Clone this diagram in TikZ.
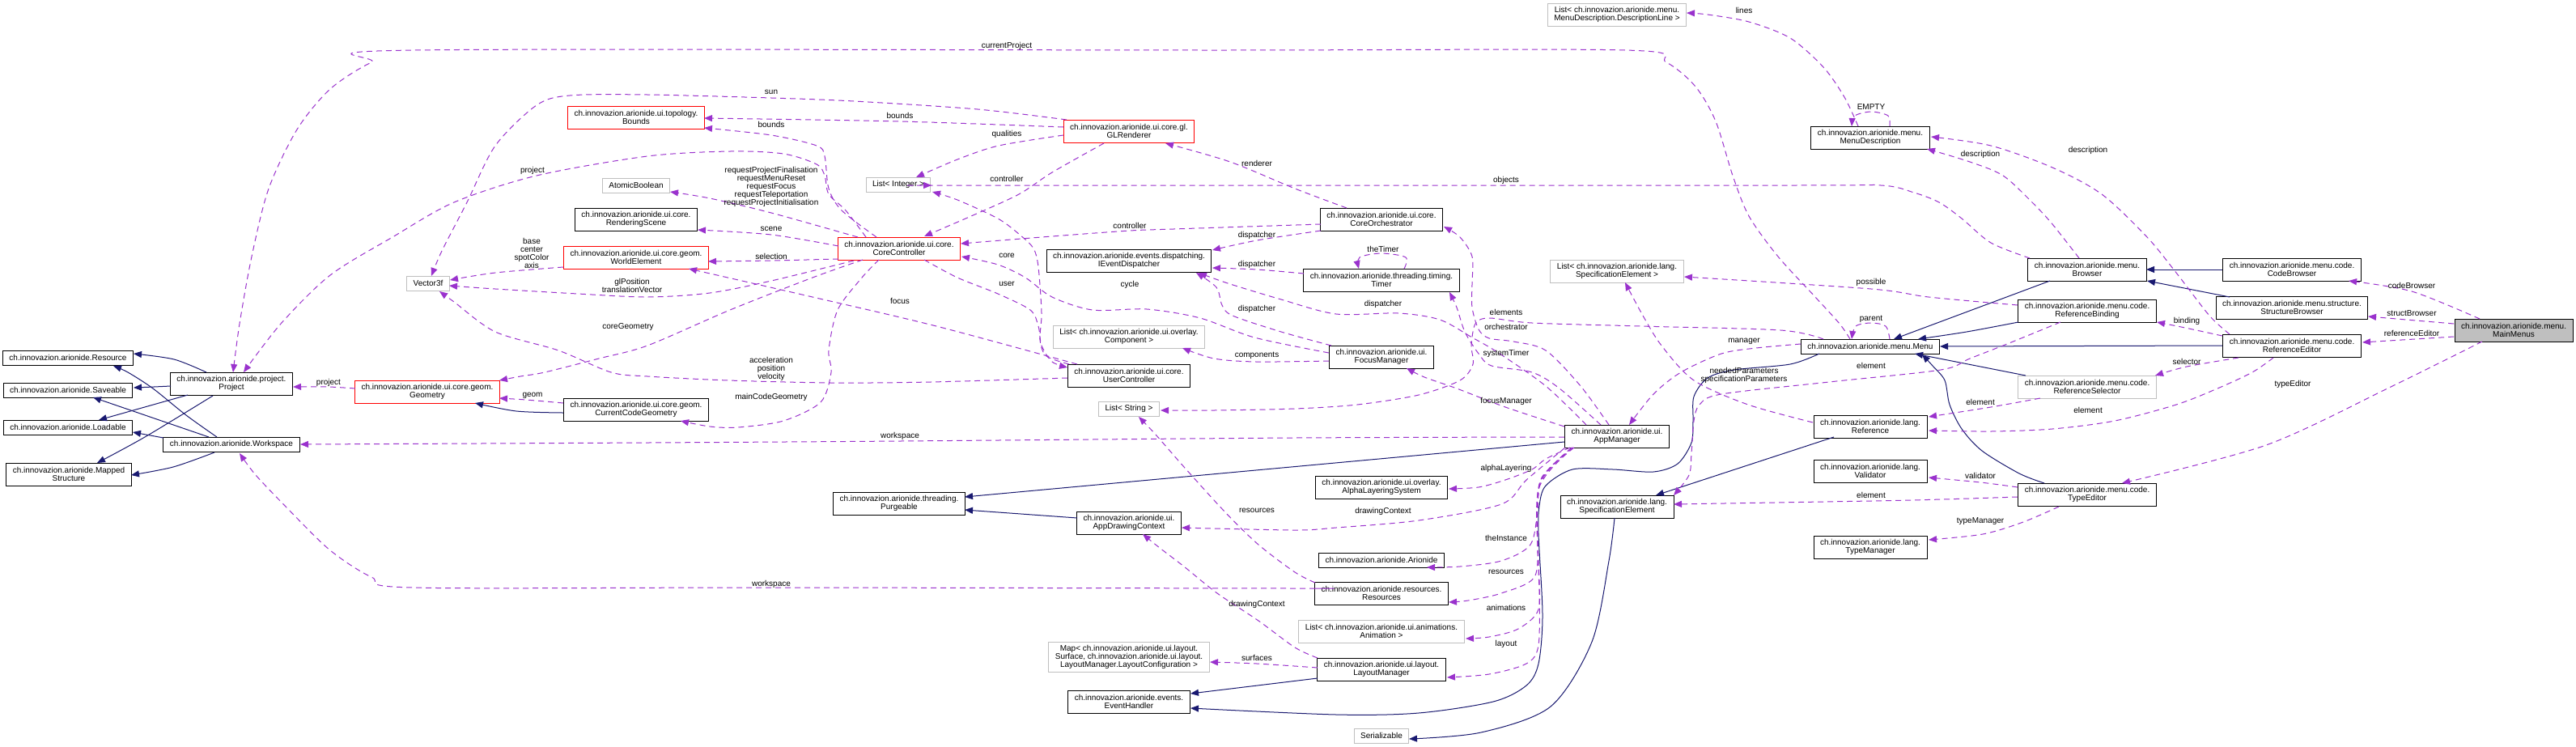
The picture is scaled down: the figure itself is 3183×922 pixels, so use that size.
\documentclass[tikz,border=0pt]{standalone}
\usepackage{fontspec}
\setmainfont{Liberation Sans}
\usetikzlibrary{arrows.meta,calc}
\definecolor{navyedge}{HTML}{191970}
\definecolor{depedge}{HTML}{9A32CD}
\definecolor{grayborder}{HTML}{BFBFBF}
\definecolor{mainfill}{HTML}{BFBFBF}
\begin{document}
\begin{tikzpicture}[x=0.5pt,y=-0.5pt,
  box/.style={draw=black, line width=0.5pt, fill=white, font=\fontsize{5}{5}\selectfont, align=center, inner xsep=4pt, inner ysep=2pt, minimum height=14pt},
  one/.style={minimum height=9pt},
  redbox/.style={box, draw=red},
  graybox/.style={box, draw=grayborder},
  inh/.style={draw=navyedge, line width=0.5pt, -{Triangle[length=5pt,width=4pt]}},
  dep/.style={draw=depedge, line width=0.5pt, dash pattern=on 3.5pt off 2.5pt, -{Triangle[length=5pt,width=4pt]}},
  lbl/.style={font=\fontsize{5}{5}\selectfont, align=center, inner sep=0.5pt}]
\fill[white] (0,0) rectangle (3183,922);
\useasboundingbox (0,0) rectangle (3183,922);

% ---------------- nodes
\node[box,one] (res) at (84,442) {ch.innovazion.arionide.Resource};
\node[box,one] (sav) at (84,482) {ch.innovazion.arionide.Saveable};
\node[box,one] (loa) at (84,528) {ch.innovazion.arionide.Loadable};
\node[box] (map) at (85,586) {ch.innovazion.arionide.Mapped\\Structure};
\node[box] (proj) at (286,474) {ch.innovazion.arionide.project.\\Project};
\node[box,one] (ws) at (286,549) {ch.innovazion.arionide.Workspace};
\node[graybox,one] (vec) at (529,350) {Vector3f};
\node[redbox] (geo) at (528,484) {ch.innovazion.arionide.ui.core.geom.\\Geometry};
\node[redbox] (bnd) at (786,145) {ch.innovazion.arionide.ui.topology.\\Bounds};
\node[graybox,one] (atom) at (786,229) {AtomicBoolean};
\node[box] (rscene) at (786,271) {ch.innovazion.arionide.ui.core.\\RenderingScene};
\node[redbox] (wel) at (786,318) {ch.innovazion.arionide.ui.core.geom.\\WorldElement};
\node[box] (ccg) at (786,506) {ch.innovazion.arionide.ui.core.geom.\\CurrentCodeGeometry};
\node[box] (purg) at (1111,622) {ch.innovazion.arionide.threading.\\Purgeable};
\node[redbox] (cc) at (1111,307) {ch.innovazion.arionide.ui.core.\\CoreController};
\node[graybox,one] (lint) at (1110,228) {List< Integer >};
\node[redbox] (glr) at (1395,162) {ch.innovazion.arionide.ui.core.gl.\\GLRenderer};
\node[box] (ied) at (1395,322) {ch.innovazion.arionide.events.dispatching.\\IEventDispatcher};
\node[graybox] (lcomp) at (1395,416) {List< ch.innovazion.arionide.ui.overlay.\\Component >};
\node[box] (uc) at (1395,464) {ch.innovazion.arionide.ui.core.\\UserController};
\node[graybox,one] (lstr) at (1395,505) {List< String >};
\node[box] (adc) at (1395,646) {ch.innovazion.arionide.ui.\\AppDrawingContext};
\node[graybox] (mapl) at (1395,812) {Map< ch.innovazion.arionide.ui.layout.\\Surface, ch.innovazion.arionide.ui.layout.\\LayoutManager.LayoutConfiguration >};
\node[box] (eh) at (1395,867) {ch.innovazion.arionide.events.\\EventHandler};
\node[box] (corch) at (1707,271) {ch.innovazion.arionide.ui.core.\\CoreOrchestrator};
\node[box] (timer) at (1707,346) {ch.innovazion.arionide.threading.timing.\\Timer};
\node[box] (fm) at (1707,441) {ch.innovazion.arionide.ui.\\FocusManager};
\node[box] (als) at (1707,602) {ch.innovazion.arionide.ui.overlay.\\AlphaLayeringSystem};
\node[box,one] (ari) at (1707,692) {ch.innovazion.arionide.Arionide};
\node[box] (rsrc) at (1707,733) {ch.innovazion.arionide.resources.\\Resources};
\node[graybox] (lanim) at (1707,780) {List< ch.innovazion.arionide.ui.animations.\\Animation >};
\node[box] (lm) at (1707,827) {ch.innovazion.arionide.ui.layout.\\LayoutManager};
\node[graybox,one] (ser) at (1707,909) {Serializable};
\node[graybox] (ldl) at (1998,18) {List< ch.innovazion.arionide.menu.\\MenuDescription.DescriptionLine >};
\node[graybox] (lspec) at (1998,335) {List< ch.innovazion.arionide.lang.\\SpecificationElement >};
\node[box] (am) at (1998,539) {ch.innovazion.arionide.ui.\\AppManager};
\node[box] (spec) at (1998,626) {ch.innovazion.arionide.lang.\\SpecificationElement};
\node[box] (md) at (2311,170) {ch.innovazion.arionide.menu.\\MenuDescription};
\node[box,one] (menu) at (2311,428) {ch.innovazion.arionide.menu.Menu};
\node[box] (ref) at (2311,527) {ch.innovazion.arionide.lang.\\Reference};
\node[box] (val) at (2311,582) {ch.innovazion.arionide.lang.\\Validator};
\node[box] (tm) at (2311,676) {ch.innovazion.arionide.lang.\\TypeManager};
\node[box] (brw) at (2579,333) {ch.innovazion.arionide.menu.\\Browser};
\node[box] (rb) at (2579,384) {ch.innovazion.arionide.menu.code.\\ReferenceBinding};
\node[graybox] (rs) at (2579,478) {ch.innovazion.arionide.menu.code.\\ReferenceSelector};
\node[box] (te) at (2579,611) {ch.innovazion.arionide.menu.code.\\TypeEditor};
\node[box] (cb) at (2832,333) {ch.innovazion.arionide.menu.code.\\CodeBrowser};
\node[box] (sb) at (2832,380) {ch.innovazion.arionide.menu.structure.\\StructureBrowser};
\node[box] (re) at (2832,427) {ch.innovazion.arionide.menu.code.\\ReferenceEditor};
\node[box,fill=mainfill] (mm) at (3106,408) {ch.innovazion.arionide.menu.\\MainMenus};

% ---------------- inheritance edges
\draw[inh] plot[smooth] coordinates {($(proj)+(-31,-14)$) (215,444) ($(res)+(81,-5)$)};
\draw[inh] plot[smooth] coordinates {($(ws)+(-18,-9)$) (230,513) (189,480) (158,460) ($(res)+(56,10)$)};
\draw[inh] plot[smooth] coordinates {($(proj)+(-75,3)$) (190,478) ($(sav)+(81,-3)$)};
\draw[inh] ($(ws)+(-28,-9)$) -- ($(sav)+(31,9)$);
\draw[inh] ($(proj)+(-54,14)$) -- ($(loa)+(38,-9)$);
\draw[inh] ($(ws)+(-84,-8)$) -- ($(loa)+(80,6)$);
\draw[inh] plot[smooth] coordinates {($(proj)+(-23,15)$) (179,540) ($(map)+(35,-14)$)};
\draw[inh] plot[smooth] coordinates {($(ws)+(-21,10)$) (214,577) ($(map)+(77,1)$)};
\draw[inh] plot[smooth] coordinates {($(ccg)+(-90,4)$) (638,508) ($(geo)+(59,14)$)};
\draw[inh] ($(am)+(-65,7)$) -- ($(purg)+(81,-8)$);
\draw[inh] ($(adc)+(-64,-6)$) -- ($(purg)+(81,8)$);
\draw[inh] ($(lm)+(-79,11)$) -- ($(eh)+(76,-10)$);
\draw[inh] plot[smooth] coordinates {($(menu)+(-63,9)$) (2212,450) (2143,457) (2110,467) (2093,490) (2092,520) (2090,547) (2073,573) (2043,583) (1993,580) (1943,580) (1910,600) (1902,625) (1901,660) (1906,760) (1901,820) (1886,847) (1845,867) (1753,881) (1651,883) ($(eh)+(76,8)$)};
\draw[inh] plot[smooth] coordinates {($(spec)+(-3,14)$) (1988,693) (1967,793) (1916,873) (1830,905) ($(ser)+(34,4)$)};
\draw[inh] ($(ref)+(-45,13)$) -- ($(spec)+(48,-14)$);
\draw[inh] ($(brw)+(-46,14)$) -- ($(menu)+(29,-9)$);
\draw[inh] plot[smooth] coordinates {($(rb)+(-85,14)$) (2430,410) ($(menu)+(59,-9)$)};
\draw[inh] ($(re)+(-86,0)$) -- ($(menu)+(86,0)$);
\draw[inh] ($(rs)+(-76,-14)$) -- ($(menu)+(55,9)$);
\draw[inh] plot[smooth] coordinates {($(te)+(-53,-14)$) (2495,585) (2449,557) (2424,530) (2409,500) (2403,470) (2388,452) ($(menu)+(64,10)$)};
\draw[inh] ($(cb)+(-86,0)$) -- ($(brw)+(73,0)$);
\draw[inh] ($(sb)+(-77,-13)$) -- ($(brw)+(74,14)$);

% ---------------- usage edges
\draw[dep] plot[smooth] coordinates {($(glr)+(-81,-5)$) (1112,150) ($(bnd)+(84,1)$)};
\draw[dep] plot[smooth] coordinates {($(cc)+(-28,-14)$) (1040,260) (1024,233) (1019,193) (1009,180) (953,167) ($(bnd)+(84,13)$)};
\draw[dep] plot[smooth] coordinates {($(cc)+(-41,-14)$) (1045,260) (1024,240) (1019,217) (1009,203) (968,190) (902,187) (800,193) (663,217) (561,250) (485,293) (408,340) (347,400) ($(proj)+(15,-14)$)};
\draw[dep] plot[smooth] coordinates {($(cc)+(-51,-14)$) (953,263) (877,245) ($(atom)+(42,8)$)};
\draw[dep] plot[smooth] coordinates {($(cc)+(-75,-3)$) (953,290) ($(rscene)+(76,13)$)};
\draw[dep] plot[smooth] coordinates {($(cc)+(-75,13)$) (953,322) ($(wel)+(89,5)$)};
\draw[dep] plot[smooth] coordinates {($(cc)+(-56,15)$) (953,347) (877,362) (800,367) (714,363) (612,357) ($(vec)+(26,3)$)};
\draw[dep] plot[smooth] coordinates {($(cc)+(-45,14)$) (1004,343) (902,383) (800,427) (740,443) (673,460) (643,465) ($(geo)+(89,-14)$)};
\draw[dep] plot[smooth] coordinates {($(cc)+(-25,14)$) (1065,343) (1035,383) (1024,433) (1027,460) (1014,497) (968,520) (912,528) (877,527) ($(ccg)+(55,14)$)};
\draw[dep] plot[smooth] coordinates {($(cc)+(31,14)$) (1183,343) (1233,363) (1273,383) (1283,403) (1287,427) (1300,447) ($(uc)+(-76,-10)$)};
\draw[dep] plot[smooth] coordinates {($(uc)+(-74,-14)$) (1293,440) (1285,420) (1287,387) (1283,330) (1277,307) (1260,290) (1233,270) (1183,247) ($(lint)+(42,9)$)};
\draw[dep] plot[smooth] coordinates {($(fm)+(-65,-5)$) (1550,417) (1483,393) (1417,382) (1350,383) (1300,367) (1267,343) (1233,327) ($(cc)+(77,10)$)};
\draw[dep] plot[smooth] coordinates {($(uc)+(-64,-14)$) (1157,403) (1004,367) ($(wel)+(65,14)$)};
\draw[dep] plot[smooth] coordinates {($(uc)+(-76,3)$) (1150,472) (1027,473) (900,470) (800,465) (755,460) (690,433) (612,410) (561,373) ($(vec)+(14,10)$)};
\draw[dep] plot[smooth] coordinates {($(wel)+(-90,12)$) (612,337) ($(vec)+(27,-4)$)};
\draw[dep] plot[smooth] coordinates {($(glr)+(-77,-14)$) (1208,135) (1055,125) (953,121) (800,117) (704,118) (663,130) (612,180) (577,250) (546,310) ($(vec)+(4,-9)$)};
\draw[dep] plot[smooth] coordinates {($(glr)+(-81,5)$) (1234,180) (1183,197) ($(lint)+(22,-9)$)};
\draw[dep] plot[smooth] coordinates {($(glr)+(-31,15)$) (1300,213) (1259,240) (1200,267) ($(cc)+(31,-15)$)};
\draw[dep] plot[smooth] coordinates {($(corch)+(-43,-14)$) (1600,233) (1520,200) ($(glr)+(45,15)$)};
\draw[dep] plot[smooth] coordinates {($(corch)+(-75,6)$) (1450,283) (1396,285) (1300,292) ($(cc)+(76,-6)$)};
\draw[dep] plot[smooth] coordinates {($(corch)+(-75,14)$) (1553,297) ($(ied)+(103,-13)$)};
\draw[dep] plot[smooth] coordinates {($(timer)+(-96,-8)$) (1553,333) ($(ied)+(103,9)$)};
\draw[dep] plot[smooth] coordinates {($(timer)+(28,-14)$) (1737,318) (1707,313) (1680,318) ($(timer)+(-28,-14)$)};
\draw[dep] plot[smooth] coordinates {($(fm)+(-62,-14)$) (1583,410) (1523,390) (1510,377) (1503,355) ($(ied)+(83,15)$)};
\draw[dep] plot[smooth] coordinates {($(am)+(-38,-14)$) (1910,477) (1850,435) (1819,417) (1779,395) (1728,387) (1651,388) (1583,370) (1517,350) ($(ied)+(86,15)$)};
\draw[dep] plot[smooth] coordinates {($(fm)+(-65,5)$) (1552,447) (1500,443) ($(lcomp)+(66,14)$)};
\draw[dep] plot[smooth] coordinates {($(brw)+(-71,-14)$) (2460,300) (2424,270) (2396,250) (2365,238) (2324,229) (2200,229) (1200,229) ($(lint)+(41,1)$)};
\draw[dep] plot[smooth] coordinates {($(menu)+(-25,-9)$) (2273,400) (2243,367) (2197,317) (2161,267) (2141,217) (2120,150) (2095,107) (2059,77) (2008,62) (1500,62) (510,62) (459,77) (408,110) (367,160) (332,233) (311,317) (296,400) ($(proj)+(2,-14)$)};
\draw[dep] plot[smooth] coordinates {($(menu)+(24,-9)$) (2330,403) (2312,399) (2293,403) ($(menu)+(-23,-9)$)};
\draw[dep] plot[smooth] coordinates {($(menu)+(-58,-9)$) (2200,408) (2027,403) (1893,399) (1840,393) (1823,400) (1818,427) (1820,450) (1804,470) (1753,488) (1677,500) (1600,505) (1500,507) ($(lstr)+(39,2)$)};
\draw[dep] plot[smooth] coordinates {($(menu)+(-86,-3)$) (2170,430) (2127,437) (2077,460) (2043,487) ($(am)+(15,-14)$)};
\draw[dep] plot[smooth] coordinates {($(md)+(-15,-14)$) (2279,120) (2253,83) (2212,47) (2161,27) (2110,18) ($(ldl)+(86,-2)$)};
\draw[dep] plot[smooth] coordinates {($(md)+(24,-14)$) (2333,143) (2312,138) (2292,143) ($(md)+(-23,-14)$)};
\draw[dep] plot[smooth] coordinates {($(brw)+(-10,-14)$) (2536,277) (2511,250) (2475,217) (2434,200) ($(md)+(70,14)$)};
\draw[dep] plot[smooth] coordinates {($(re)+(-77,-14)$) (2730,390) (2689,337) (2653,293) (2597,240) (2536,207) (2460,180) ($(md)+(75,-1)$)};
\draw[dep] plot[smooth] coordinates {($(re)+(-86,-12)$) (2700,405) ($(rb)+(86,14)$)};
\draw[dep] plot[smooth] coordinates {($(re)+(-66,15)$) (2702,453) ($(rs)+(84,-14)$)};
\draw[dep] plot[smooth] coordinates {($(re)+(-23,15)$) (2783,460) (2740,480) (2689,500) (2613,520) (2536,530) (2460,533) ($(ref)+(72,5)$)};
\draw[dep] plot[smooth] coordinates {($(rs)+(-58,14)$) (2460,503) ($(ref)+(72,-12)$)};
\draw[dep] plot[smooth] coordinates {($(rb)+(-86,-7)$) (2383,367) (2312,357) ($(lspec)+(83,7)$)};
\draw[dep] plot[smooth] coordinates {($(rb)+(-33,14)$) (2485,423) (2434,443) (2398,457) (2260,472) (2127,487) (2100,500) (2093,520) (2090,560) (2087,587) ($(spec)+(70,-14)$)};
\draw[dep] plot[smooth] coordinates {($(ref)+(-71,-5)$) (2160,500) (2093,470) (2053,427) (2030,390) ($(lspec)+(10,14)$)};
\draw[dep] plot[smooth] coordinates {($(te)+(-86,-9)$) (2447,596) ($(val)+(72,8)$)};
\draw[dep] plot[smooth] coordinates {($(te)+(-86,3)$) (2400,617) (2312,619) ($(spec)+(70,-3)$)};
\draw[dep] plot[smooth] coordinates {($(te)+(-35,15)$) (2500,645) (2450,660) ($(tm)+(72,-9)$)};
\draw[dep] plot[smooth] coordinates {($(mm)+(-42,-14)$) (2980,360) ($(cb)+(70,14)$)};
\draw[dep] ($(mm)+(-74,-8)$) -- ($(sb)+(94,11)$);
\draw[dep] ($(mm)+(-74,8)$) -- ($(re)+(87,-4)$);
\draw[dep] plot[smooth] coordinates {($(mm)+(-39,14)$) (2950,480) (2800,550) ($(te)+(43,-14)$)};
\draw[dep] plot[smooth] coordinates {($(am)+(-58,14)$) (1910,567) (1893,580) (1860,593) (1827,602) ($(als)+(83,2)$)};
\draw[dep] plot[smooth] coordinates {($(am)+(-64,14)$) (1886,593) (1855,623) (1753,643) (1651,652) (1600,655) ($(adc)+(65,6)$)};
\draw[dep] plot[smooth] coordinates {($(am)+(-56,14)$) (1905,590) (1900,630) (1891,673) (1855,693) (1804,700) ($(ari)+(56,9)$)};
\draw[dep] plot[smooth] coordinates {($(am)+(-55,14)$) (1903,595) (1900,660) (1896,713) (1855,733) (1814,742) ($(rsrc)+(83,11)$)};
\draw[dep] plot[smooth] coordinates {($(am)+(-54,14)$) (1902,600) (1901,700) (1901,753) (1876,777) (1840,787) ($(lanim)+(104,9)$)};
\draw[dep] plot[smooth] coordinates {($(am)+(-53,14)$) (1901,605) (1902,720) (1901,797) (1886,820) (1840,833) ($(lm)+(81,10)$)};
\draw[dep] plot[smooth] coordinates {($(am)+(-65,-12)$) (1860,503) (1800,480) (1760,466) ($(fm)+(31,14)$)};
\draw[dep] plot[smooth] coordinates {($(am)+(-10,-14)$) (1953,477) (1910,433) (1870,422) (1840,418) (1827,407) (1819,380) (1819,350) (1819,317) (1804,293) ($(corch)+(77,9)$)};
\draw[dep] plot[smooth] coordinates {($(am)+(-20,-14)$) (1927,480) (1893,460) (1843,452) (1827,437) (1810,410) (1800,380) ($(timer)+(84,15)$)};
\draw[dep] plot[smooth] coordinates {($(am)+(-65,1)$) (1600,541) (1112,545) (800,547) ($(ws)+(85,0)$)};
\draw[dep] plot[smooth] coordinates {($(rsrc)+(-82,-13)$) (1600,707) (1555,673) (1514,633) (1463,577) (1428,537) ($(lstr)+(12,10)$)};
\draw[dep] plot[smooth] coordinates {($(rsrc)+(-83,-6)$) (1600,727) (953,726) (510,726) (459,713) (408,680) (357,630) (316,587) ($(ws)+(10,11)$)};
\draw[dep] plot[smooth] coordinates {($(lm)+(-79,-14)$) (1600,800) (1555,767) (1504,733) (1463,700) (1433,677) ($(adc)+(17,14)$)};
\draw[dep] plot[smooth] coordinates {($(lm)+(-79,-2)$) (1553,820) ($(mapl)+(100,6)$)};
\draw[dep] plot[smooth] coordinates {($(geo)+(-89,-4)$) (406,478) ($(proj)+(76,4)$)};
\draw[dep] plot[smooth] coordinates {($(ccg)+(-90,-8)$) (650,494) ($(geo)+(89,8)$)};

% ---------------- labels
\node[lbl] (l01) at (1244,57) {currentProject};
\node[lbl] (l02) at (953,114) {sun};
\node[lbl] (l03) at (1112,143) {bounds};
\node[lbl] (l04) at (953,154) {bounds};
\node[lbl] (l05) at (1244,166) {qualities};
\node[lbl] (l06) at (1553,202) {renderer};
\node[lbl] (l07) at (658,211) {project};
\node[lbl] (l08) at (1244,221) {controller};
\node[lbl] (l09) at (1861,223) {objects};
\node[lbl] (l10) at (953,231) {requestProjectFinalisation\\requestMenuReset\\requestFocus\\requestTeleportation\\requestProjectInitialisation};
\node[lbl] (l11) at (953,283) {scene};
\node[lbl] (l12) at (1396,279) {controller};
\node[lbl] (l13) at (1553,291) {dispatcher};
\node[lbl] (l14) at (657,313) {base\\center\\spotColor\\axis};
\node[lbl] (l15) at (1709,308) {theTimer};
\node[lbl] (l16) at (953,317) {selection};
\node[lbl] (l17) at (1244,316) {core};
\node[lbl] (l18) at (1553,327) {dispatcher};
\node[lbl] (l19) at (781,353) {glPosition\\translationVector};
\node[lbl] (l20) at (2312,349) {possible};
\node[lbl] (l21) at (1244,351) {user};
\node[lbl] (l22) at (1396,352) {cycle};
\node[lbl] (l23) at (1112,372) {focus};
\node[lbl] (l24) at (1709,376) {dispatcher};
\node[lbl] (l25) at (1553,382) {dispatcher};
\node[lbl] (l26) at (1861,386) {elements};
\node[lbl] (l27) at (2312,394) {parent};
\node[lbl] (l28) at (776,404) {coreGeometry};
\node[lbl] (l29) at (1861,404) {orchestrator};
\node[lbl] (l30) at (2980,353) {codeBrowser};
\node[lbl] (l31) at (2980,387) {structBrowser};
\node[lbl] (l32) at (2702,397) {binding};
\node[lbl] (l33) at (2980,412) {referenceEditor};
\node[lbl] (l34) at (2155,422) {manager};
\node[lbl] (l35) at (1861,437) {systemTimer};
\node[lbl] (l36) at (1553,439) {components};
\node[lbl] (l37) at (2702,447) {selector};
\node[lbl] (l38) at (953,456) {acceleration\\position\\velocity};
\node[lbl] (l39) at (2312,452) {element};
\node[lbl] (l40) at (2155,464) {neededParameters\\specificationParameters};
\node[lbl] (l41) at (2833,475) {typeEditor};
\node[lbl] (l42) at (406,473) {project};
\node[lbl] (l43) at (658,489) {geom};
\node[lbl] (l44) at (953,491) {mainCodeGeometry};
\node[lbl] (l45) at (1861,496) {focusManager};
\node[lbl] (l46) at (2447,497) {element};
\node[lbl] (l47) at (2580,507) {element};
\node[lbl] (l48) at (1112,539) {workspace};
\node[lbl] (l49) at (1861,579) {alphaLayering};
\node[lbl] (l50) at (2447,588) {validator};
\node[lbl] (l51) at (2312,612) {element};
\node[lbl] (l52) at (1553,631) {resources};
\node[lbl] (l53) at (1709,632) {drawingContext};
\node[lbl] (l54) at (2447,644) {typeManager};
\node[lbl] (l55) at (1861,665) {theInstance};
\node[lbl] (l56) at (1861,707) {resources};
\node[lbl] (l57) at (953,722) {workspace};
\node[lbl] (l58) at (1553,747) {drawingContext};
\node[lbl] (l59) at (1861,751) {animations};
\node[lbl] (l60) at (1861,796) {layout};
\node[lbl] (l61) at (1553,813) {surfaces};
\node[lbl] (l62) at (2155,13) {lines};
\node[lbl] (l63) at (2312,132) {EMPTY};
\node[lbl] (l64) at (2447,191) {description};
\node[lbl] (l65) at (2580,186) {description};
\end{tikzpicture}
\end{document}
